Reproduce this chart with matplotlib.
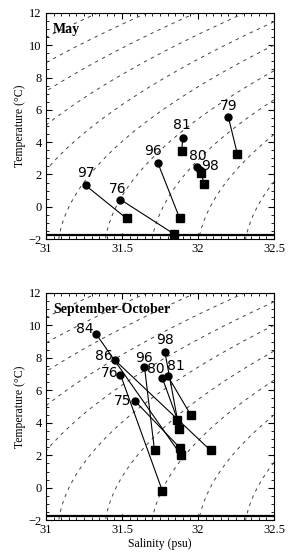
import numpy as np
import matplotlib
matplotlib.use("Agg")
import matplotlib.pyplot as plt
from matplotlib.ticker import MultipleLocator

# May: start (circle) and end (square) of each year
may_years = ["97", "76", "96", "81", "80", "98", "79"]
may_s0 = [31.26, 31.49, 31.735, 31.90, 31.995, 32.015, 32.20]
may_t0 = [1.33, 0.45, 2.74, 4.27, 2.49, 2.30, 5.55]
may_s1 = [31.53, 31.84, 31.88, 31.893, 32.02, 32.04, 32.26]
may_t1 = [-0.72, -1.67, -0.72, 3.47, 2.12, 1.43, 3.24]

# September-October
so_years = ["84", "86", "76", "75", "96", "80", "81", "98"]
so_s0 = [31.328, 31.453, 31.49, 31.587, 31.648, 31.766, 31.80, 31.783]
so_t0 = [9.49, 7.86, 6.96, 5.33, 7.45, 6.74, 6.90, 8.33]
so_s1 = [31.886, 32.083, 31.766, 31.882, 31.714, 31.865, 31.952, 31.877]
so_t1 = [2.04, 2.30, -0.20, 2.45, 2.30, 4.20, 4.49, 3.59]

freezing_t = -1.75
sigma_levels = np.arange(22.5, 26.8, 0.25)

# label offsets in pixels
may_off = {"97": (0, 12), "76": (-3, 11), "96": (-5, 12), "81": (-1, 13),
           "80": (1, 11), "98": (10, 4), "79": (0, 11)}
so_off = {"84": (-11, 5), "86": (-11, 4), "76": (-11, 2), "75": (-13, 0),
          "96": (0, 9), "80": (-7, 9), "81": (8, 10), "98": (0, 12)}


def sigma_t(S, T):
    rho_w = (999.842594 + 6.793952e-2 * T - 9.095290e-3 * T**2
             + 1.001685e-4 * T**3 - 1.120083e-6 * T**4 + 6.536332e-9 * T**5)
    A = 8.24493e-1 - 4.0899e-3 * T + 7.6438e-5 * T**2 - 8.2467e-7 * T**3 + 5.3875e-9 * T**4
    B = -5.72466e-3 + 1.0227e-4 * T - 1.6546e-6 * T**2
    C = 4.8314e-4
    return rho_w + A * S + B * S**1.5 + C * S**2 - 1000.0


serif = "Liberation Serif"

fig = plt.figure(figsize=(2.93, 5.6), dpi=100)
ax1 = fig.add_axes([0.157, 0.573, 0.778, 0.404])
ax2 = fig.add_axes([0.157, 0.071, 0.778, 0.406])

SS, TT = np.meshgrid(np.linspace(31, 32.5, 200), np.linspace(-2, 12, 200))
sig = sigma_t(SS, TT)


def draw_panel(ax, years, s0, t0, s1, t1, offs, title):
    ax.contour(SS, TT, sig, levels=sigma_levels, colors="#444444",
               linewidths=0.7, linestyles=[(0, (3.5, 4.5))])
    ax.axhline(freezing_t, color="black", lw=1.6)
    for i, yr in enumerate(years):
        ax.plot([s0[i], s1[i]], [t0[i], t1[i]], color="black", lw=0.8, zorder=3)
        ax.plot(s1[i], t1[i], "s", color="black", ms=5.5, zorder=4)
        ax.plot(s0[i], t0[i], "o", color="black", ms=5, zorder=4)
        ax.annotate(yr, (s0[i], t0[i]), xytext=offs[yr], textcoords="offset pixels",
                    ha="center", va="center", fontsize=10, family="DejaVu Sans")
    ax.set_xlim(31, 32.5)
    ax.set_ylim(-2, 12)
    ax.xaxis.set_major_locator(MultipleLocator(0.5))
    ax.xaxis.set_minor_locator(MultipleLocator(0.05))
    ax.yaxis.set_major_locator(MultipleLocator(2))
    ax.yaxis.set_minor_locator(MultipleLocator(0.5))
    ax.xaxis.set_major_formatter(plt.FuncFormatter(lambda v, p: f"{v:g}"))
    ax.tick_params(which="both", direction="in", top=True, right=True)
    ax.tick_params(which="major", length=4, labelsize=9, pad=3)
    ax.tick_params(which="minor", length=2)
    for lab in ax.get_xticklabels() + ax.get_yticklabels():
        lab.set_family(serif)
    ax.set_ylabel("Temperature (\u00b0C)", family=serif, fontsize=8.5, labelpad=2)
    ax.text(0.03, 0.955, title, transform=ax.transAxes, family=serif,
            fontweight="bold", fontsize=10, va="top")


draw_panel(ax1, may_years, may_s0, may_t0, may_s1, may_t1, may_off, "May")
draw_panel(ax2, so_years, so_s0, so_t0, so_s1, so_t1, so_off, "September-October")
ax2.set_xlabel("Salinity (psu)", family=serif, fontsize=8.5, labelpad=1)

fig.savefig("out.png", dpi=100)
